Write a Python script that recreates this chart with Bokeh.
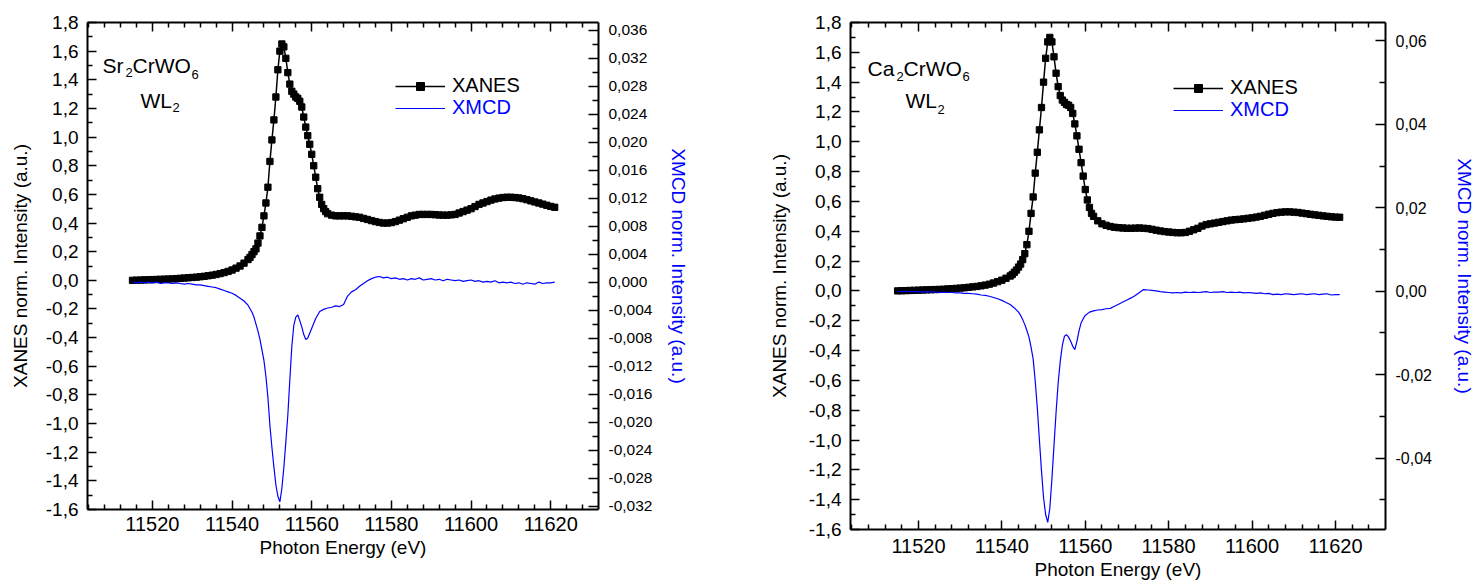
from bokeh.plotting import figure
from bokeh.models import (Range1d, LinearAxis, FixedTicker, CustomJSTickFormatter,
                          Legend, LegendItem, Label)
from bokeh.layouts import row
from bokeh.embed import file_html
from bokeh.resources import INLINE

FONT = "Liberation Sans"
BLUE = "#0000FF"

# ---------------- data: Sr2CrWO6 ----------------
sr_xanes_e = [11515, 11516, 11517, 11518, 11519, 11520, 11521, 11522, 11523, 11524,
              11525, 11526, 11527, 11528, 11529, 11530, 11531, 11532, 11533, 11534,
              11535, 11536, 11537, 11538, 11539, 11540, 11541, 11542, 11543, 11544,
              11544.5, 11545, 11545.5, 11546, 11546.5, 11547, 11547.5, 11548, 11548.5, 11549,
              11549.5, 11550, 11550.5, 11551, 11551.5, 11552, 11552.5, 11553, 11553.5, 11554,
              11554.5, 11555, 11555.5, 11556, 11556.5, 11557, 11557.5, 11558, 11558.5, 11559,
              11559.5, 11560, 11560.5, 11561, 11561.5, 11562, 11562.5, 11563, 11563.5, 11564,
              11565, 11566, 11567, 11568, 11569, 11570, 11571, 11572, 11573, 11574,
              11575, 11576, 11577, 11578, 11579, 11580, 11581, 11582, 11583, 11584,
              11585, 11586, 11587, 11588, 11589, 11590, 11591, 11592, 11593, 11594,
              11595, 11596, 11597, 11598, 11599, 11600, 11601, 11602, 11603, 11604,
              11605, 11606, 11607, 11608, 11609, 11610, 11611, 11612, 11613, 11614,
              11615, 11616, 11617, 11618, 11619, 11620, 11621]
sr_xanes = [0.000, 0.001, 0.002, 0.003, 0.004, 0.005, 0.006, 0.007, 0.008, 0.009,
            0.010, 0.012, 0.014, 0.016, 0.018, 0.020, 0.022, 0.025, 0.028, 0.032,
            0.036, 0.041, 0.047, 0.054, 0.062, 0.072, 0.085, 0.100, 0.120, 0.145,
            0.160, 0.180, 0.200, 0.220, 0.260, 0.310, 0.370, 0.450, 0.540, 0.650,
            0.830, 0.980, 1.120, 1.280, 1.470, 1.600, 1.650, 1.630, 1.550, 1.450,
            1.370, 1.320, 1.300, 1.280, 1.270, 1.250, 1.210, 1.140, 1.070, 1.010,
            0.950, 0.880, 0.800, 0.720, 0.640, 0.580, 0.530, 0.500, 0.480, 0.465,
            0.455, 0.450, 0.450, 0.450, 0.450, 0.447, 0.443, 0.440, 0.432, 0.425,
            0.417, 0.410, 0.404, 0.400, 0.400, 0.403, 0.410, 0.420, 0.430, 0.440,
            0.450, 0.455, 0.460, 0.460, 0.460, 0.460, 0.458, 0.456, 0.455, 0.455,
            0.457, 0.460, 0.470, 0.480, 0.490, 0.500, 0.515, 0.530, 0.540, 0.550,
            0.560, 0.568, 0.574, 0.578, 0.580, 0.580, 0.578, 0.575, 0.570, 0.563,
            0.555, 0.547, 0.540, 0.532, 0.524, 0.516, 0.510]

sr_xmcd_e = [11515, 11516, 11517, 11518, 11519, 11520, 11521, 11522, 11523, 11524,
             11525, 11526, 11527, 11528, 11529, 11530, 11531, 11532, 11533, 11534,
             11535, 11536, 11537, 11538, 11539, 11540, 11541, 11542, 11543, 11544,
             11545, 11545.5, 11546, 11546.5, 11547, 11547.5, 11548, 11548.5, 11549, 11549.5,
             11550, 11550.5, 11551, 11551.5, 11552, 11552.5, 11553, 11553.5, 11554, 11554.5,
             11555, 11555.5, 11556, 11556.5, 11557, 11557.5, 11558, 11558.5, 11559, 11559.5,
             11560, 11561, 11562, 11563, 11564, 11565, 11566, 11567, 11568, 11569,
             11570, 11571, 11572, 11573, 11574, 11575, 11576, 11577, 11578, 11579,
             11580, 11581, 11582, 11583, 11584, 11585, 11586, 11587, 11588, 11589,
             11590, 11591, 11592, 11593, 11594, 11595, 11596, 11597, 11598, 11599,
             11600, 11601, 11602, 11603, 11604, 11605, 11606, 11607, 11608, 11609,
             11610, 11611, 11612, 11613, 11614, 11615, 11616, 11617, 11618, 11619,
             11620, 11621]
sr_xmcd = [0.0000, -0.0001, 0.0000, -0.0001, 0.0000, -0.0001, 0.0000, -0.0002, -0.0001, -0.0001,
           -0.0002, -0.0001, -0.0002, -0.0003, -0.0002, -0.0003, -0.0004, -0.0004, -0.0005, -0.0006,
           -0.0007, -0.0008, -0.0010, -0.0012, -0.0014, -0.0016, -0.0019, -0.0023, -0.0027, -0.0033,
           -0.0043, -0.0050, -0.0060, -0.0070, -0.0082, -0.0097, -0.0112, -0.0135, -0.0165, -0.0205,
           -0.0236, -0.0264, -0.0290, -0.0306, -0.0314, -0.0295, -0.0265, -0.0228, -0.0190, -0.0140,
           -0.0092, -0.0062, -0.0050, -0.0047, -0.0055, -0.0064, -0.0075, -0.0082, -0.0080, -0.0073,
           -0.0066, -0.0052, -0.0042, -0.0039, -0.0037, -0.0036, -0.0034, -0.0035, -0.0032, -0.0020,
           -0.0014, -0.0011, -0.0006, -0.0002, 0.0002, 0.0005, 0.0007, 0.0008, 0.0006, 0.0007,
           0.0005, 0.0006, 0.0004, 0.0005, 0.0003, 0.0005, 0.0004, 0.0006, 0.0003, 0.0004,
           0.0005, 0.0003, 0.0004, 0.0002, 0.0004, 0.0003, 0.0002, 0.0003, 0.0001, 0.0002,
           0.0003, 0.0001, 0.0002, 0.0000, 0.0001, 0.0000, 0.0002, -0.0001, 0.0000, -0.0001,
           0.0000, -0.0002, -0.0001, -0.0003, -0.0001, -0.0002, -0.0003, 0.0000, -0.0002, -0.0001,
           -0.0001, 0.0000]

# ---------------- data: Ca2CrWO6 ----------------
ca_xanes_e = [11515, 11516, 11517, 11518, 11519, 11520, 11521, 11522, 11523, 11524,
              11525, 11526, 11527, 11528, 11529, 11530, 11531, 11532, 11533, 11534,
              11535, 11536, 11537, 11538, 11539, 11540, 11541, 11542,
              11542.5, 11543, 11543.5, 11544, 11544.5, 11545, 11545.5, 11546, 11546.5, 11547,
              11547.5, 11548, 11548.5, 11549, 11549.5, 11550, 11550.5, 11551, 11551.5, 11552,
              11552.5, 11553, 11553.5, 11554, 11554.5, 11555, 11555.5, 11556, 11556.5, 11557,
              11557.5, 11558, 11558.5, 11559, 11559.5, 11560, 11560.5, 11561, 11561.5, 11562,
              11563, 11564, 11565, 11566, 11567, 11568, 11569, 11570, 11571, 11572,
              11573, 11574, 11575, 11576, 11577, 11578, 11579, 11580, 11581, 11582,
              11583, 11584, 11585, 11586, 11587, 11588, 11589, 11590, 11591, 11592,
              11593, 11594, 11595, 11596, 11597, 11598, 11599, 11600, 11601, 11602,
              11603, 11604, 11605, 11606, 11607, 11608, 11609, 11610, 11611, 11612,
              11613, 11614, 11615, 11616, 11617, 11618, 11619, 11620, 11621]
ca_xanes = [0.000, 0.001, 0.002, 0.003, 0.004, 0.005, 0.006, 0.007, 0.008, 0.009,
            0.010, 0.011, 0.013, 0.015, 0.017, 0.019, 0.021, 0.024, 0.027, 0.030,
            0.034, 0.039, 0.045, 0.053, 0.062, 0.072, 0.085, 0.100,
            0.110, 0.125, 0.140, 0.160, 0.180, 0.210, 0.250, 0.310, 0.400, 0.520,
            0.630, 0.790, 0.930, 1.080, 1.230, 1.400, 1.560, 1.670, 1.700, 1.670,
            1.570, 1.460, 1.370, 1.310, 1.280, 1.265, 1.250, 1.245, 1.230, 1.190,
            1.120, 1.040, 0.950, 0.860, 0.770, 0.680, 0.610, 0.560, 0.520, 0.500,
            0.470, 0.450, 0.440, 0.432, 0.427, 0.424, 0.422, 0.420, 0.420, 0.421,
            0.422, 0.420, 0.418, 0.413, 0.407, 0.402, 0.398, 0.395, 0.392, 0.390,
            0.390, 0.392, 0.400, 0.410, 0.420, 0.435, 0.445, 0.450, 0.455, 0.460,
            0.465, 0.470, 0.475, 0.478, 0.480, 0.483, 0.487, 0.490, 0.495, 0.500,
            0.507, 0.514, 0.520, 0.525, 0.528, 0.530, 0.530, 0.528, 0.526, 0.522,
            0.518, 0.514, 0.510, 0.507, 0.503, 0.500, 0.497, 0.495, 0.494]

ca_xmcd_e = [11515, 11516, 11517, 11518, 11519, 11520, 11521, 11522, 11523, 11524,
             11525, 11526, 11527, 11528, 11529, 11530, 11531, 11532, 11533, 11534,
             11535, 11536, 11537, 11538, 11539, 11540, 11541, 11542, 11543, 11544,
             11544.5, 11545, 11545.5, 11546, 11546.5, 11547, 11547.5, 11548, 11548.5, 11549,
             11549.5, 11550, 11550.5, 11551, 11551.5, 11552, 11552.5, 11553, 11553.5, 11554,
             11554.5, 11555, 11555.5, 11556, 11556.5, 11557, 11557.5, 11558, 11558.5, 11559,
             11559.5, 11560, 11561, 11562, 11563, 11564, 11565, 11566, 11567, 11568,
             11569, 11570, 11571, 11572, 11573, 11574, 11575, 11576, 11577, 11578,
             11579, 11580, 11581, 11582, 11583, 11584, 11585, 11586, 11587, 11588,
             11589, 11590, 11591, 11592, 11593, 11594, 11595, 11596, 11597, 11598,
             11599, 11600, 11601, 11602, 11603, 11604, 11605, 11606, 11607, 11608,
             11609, 11610, 11611, 11612, 11613, 11614, 11615, 11616, 11617, 11618,
             11619, 11620, 11621]
ca_xmcd = [0.0000, -0.0001, 0.0000, -0.0001, -0.0001, -0.0001, -0.0002, -0.0001, -0.0002, -0.0002,
           -0.0003, -0.0002, -0.0003, -0.0003, -0.0004, -0.0004, -0.0005, -0.0005, -0.0006, -0.0007,
           -0.0009, -0.0010, -0.0012, -0.0015, -0.0018, -0.0022, -0.0027, -0.0032, -0.0040, -0.0050,
           -0.0058, -0.0068, -0.0080, -0.0094, -0.0110, -0.0134, -0.0162, -0.0215, -0.0280, -0.0356,
           -0.0430, -0.0495, -0.0535, -0.0554, -0.0520, -0.0450, -0.0370, -0.0290, -0.0220, -0.0168,
           -0.0130, -0.0108, -0.0104, -0.0110, -0.0120, -0.0132, -0.0140, -0.0120, -0.0095, -0.0076,
           -0.0066, -0.0058, -0.0050, -0.0047, -0.0045, -0.0044, -0.0042, -0.0041, -0.0036, -0.0031,
           -0.0026, -0.0021, -0.0016, -0.0010, -0.0003, 0.0004, 0.0003, 0.0002, 0.0001, -0.0001,
           -0.0002, -0.0003, -0.0004, -0.0003, -0.0004, -0.0002, -0.0003, -0.0002, -0.0003, -0.0002,
           -0.0001, -0.0003, -0.0002, -0.0002, -0.0001, -0.0003, -0.0002, -0.0003, -0.0002, -0.0004,
           -0.0003, -0.0004, -0.0005, -0.0004, -0.0006, -0.0005, -0.0008, -0.0007, -0.0008, -0.0006,
           -0.0007, -0.0008, -0.0007, -0.0006, -0.0008, -0.0007, -0.0006, -0.0008, -0.0007, -0.0006,
           -0.0009, -0.0008, -0.0008]

# ---------------- ticks ----------------
x_major = [11520, 11540, 11560, 11580, 11600, 11620]
x_minor = [11504, 11508, 11512, 11516, 11524, 11528, 11532, 11536, 11544, 11548, 11552, 11556,
           11564, 11568, 11572, 11576, 11584, 11588, 11592, 11596, 11604, 11608, 11612, 11616,
           11624, 11628]
xanes_major = [-1.6, -1.4, -1.2, -1.0, -0.8, -0.6, -0.4, -0.2, 0.0, 0.2, 0.4, 0.6, 0.8,
               1.0, 1.2, 1.4, 1.6, 1.8]
xanes_minor = [-1.5, -1.3, -1.1, -0.9, -0.7, -0.5, -0.3, -0.1, 0.1, 0.3, 0.5, 0.7, 0.9,
               1.1, 1.3, 1.5, 1.7]
sr_xmcd_major = [-0.032, -0.028, -0.024, -0.020, -0.016, -0.012, -0.008, -0.004, 0.0,
                 0.004, 0.008, 0.012, 0.016, 0.020, 0.024, 0.028, 0.032, 0.036]
sr_xmcd_minor = [-0.030, -0.026, -0.022, -0.018, -0.014, -0.010, -0.006, -0.002,
                 0.002, 0.006, 0.010, 0.014, 0.018, 0.022, 0.026, 0.030, 0.034]
ca_xmcd_major = [-0.04, -0.02, 0.0, 0.02, 0.04, 0.06]
ca_xmcd_minor = [-0.05, -0.03, -0.01, 0.01, 0.03, 0.05]

X_RANGE = (11503.7, 11632.0)
XANES_RANGE = (-1.6, 1.8)
SR_XMCD_RANGE = (-0.0325, 0.0371)
CA_XMCD_RANGE = (-0.0571, 0.0644)


def comma_fmt(d):
    return CustomJSTickFormatter(args=dict(d=d), code="""
        const v = Math.abs(tick) < 1e-12 ? 0 : tick;
        return v.toFixed(d).replace('.', ',');
    """)


def style_axis(ax, tick_px, major_in, minor_in, label_standoff, title_standoff,
               title_px=19, title_color="black"):
    ax.axis_line_width = 2
    ax.axis_line_color = "black"
    ax.major_tick_in = major_in
    ax.major_tick_out = 0
    ax.minor_tick_in = minor_in
    ax.minor_tick_out = 0
    ax.major_tick_line_width = 1.5
    ax.minor_tick_line_width = 1.5
    ax.major_tick_line_color = "black"
    ax.minor_tick_line_color = "black"
    ax.major_label_text_font = FONT
    ax.major_label_text_font_size = f"{tick_px}px"
    ax.major_label_text_color = "black"
    ax.major_label_standoff = label_standoff
    ax.axis_label_text_font = FONT
    ax.axis_label_text_font_style = "normal"
    ax.axis_label_text_font_size = f"{title_px}px"
    ax.axis_label_text_color = title_color
    ax.axis_label_standoff = title_standoff


def make_panel(width, height, borders, xe, xv, me, mv, xmcd_range, xmcd_major, xmcd_minor,
               xmcd_dec, xmcd_tick_px, opts, legend_pos, name_pieces):
    bl, br, bt, bb = borders
    p = figure(width=width, height=height, output_backend="svg", toolbar_location=None,
               x_range=Range1d(*X_RANGE), y_range=Range1d(*XANES_RANGE),
               x_axis_location=None, y_axis_location=None,
               min_border_left=bl, min_border_right=br, min_border_top=bt, min_border_bottom=bb)
    p.extra_y_ranges = {"xmcd": Range1d(*xmcd_range)}
    p.grid.visible = False
    p.outline_line_color = None
    p.background_fill_color = "white"
    p.border_fill_color = "white"

    # axes
    bottom = LinearAxis(ticker=FixedTicker(ticks=x_major, minor_ticks=x_minor),
                        formatter=comma_fmt(0), axis_label="Photon Energy (eV)")
    style_axis(bottom, 20, 9, 5, opts["b_ls"], opts["b_ts"])
    p.add_layout(bottom, "below")

    top = LinearAxis(ticker=FixedTicker(ticks=x_major, minor_ticks=x_minor),
                     formatter=CustomJSTickFormatter(code="return '';"))
    style_axis(top, 1, 9, 5, 0, 0)
    p.add_layout(top, "above")

    left = LinearAxis(ticker=FixedTicker(ticks=xanes_major, minor_ticks=xanes_minor),
                      formatter=comma_fmt(1), axis_label="XANES norm. Intensity (a.u.)")
    style_axis(left, 19, 9, 5, opts["l_ls"], opts["l_ts"])
    p.add_layout(left, "left")

    right = LinearAxis(y_range_name="xmcd",
                       ticker=FixedTicker(ticks=xmcd_major, minor_ticks=xmcd_minor),
                       formatter=comma_fmt(xmcd_dec), axis_label="XMCD norm. Intensity (a.u.)")
    style_axis(right, xmcd_tick_px, 10, 6, opts["r_ls"], opts["r_ts"], title_color=BLUE)
    p.add_layout(right, "right")

    # data
    lx = p.line(xe, xv, line_color="black", line_width=1.5)
    sq = p.scatter(xe, xv, marker="square", size=6.3, fill_color="black", line_color="black")
    lm = p.line(me, mv, y_range_name="xmcd", line_color=BLUE, line_width=1.2)

    # legends (two, so each label can carry its own colour)
    vx, vy1, vy2 = legend_pos
    for items, loc, col in (([LegendItem(label="XANES", renderers=[lx, sq])], (vx, vy1), "black"),
                            ([LegendItem(label="XMCD", renderers=[lm])], (vx, vy2), BLUE)):
        leg = Legend(items=items, location=loc)
        leg.border_line_color = None
        leg.background_fill_alpha = 0
        leg.padding = 0
        leg.margin = 0
        leg.spacing = 0
        leg.glyph_width = 50
        leg.glyph_height = 20
        leg.label_height = 20
        leg.label_standoff = 7
        leg.label_text_font = FONT
        leg.label_text_font_size = "20px"
        leg.label_text_color = col
        p.add_layout(leg)

    for txt, sx, sy, size in name_pieces:
        p.add_layout(Label(x=sx, y=sy, x_units="screen", y_units="screen", text=txt,
                           text_font=FONT, text_font_size=f"{size}px", text_color="black",
                           text_align="left", text_baseline="alphabetic"))
    return p


p1 = make_panel(753, 565, (87, 155, 22, 56),
                sr_xanes_e, sr_xanes, sr_xmcd_e, sr_xmcd,
                SR_XMCD_RANGE, sr_xmcd_major, sr_xmcd_minor, 3, 15.5,
                dict(b_ls=7, b_ts=3, l_ls=9, l_ts=12, r_ls=10, r_ts=13),
                (308, 412, 390),
                [("Sr", 15, 444, 21), ("2", 38, 437, 13), ("CrWO", 45, 444, 21),
                 ("6", 104, 435, 13), ("WL", 53, 409, 21), ("2", 85, 402, 13)])

p2 = make_panel(724, 585, (97, 92, 22, 56),
                ca_xanes_e, ca_xanes, ca_xmcd_e, ca_xmcd,
                CA_XMCD_RANGE, ca_xmcd_major, ca_xmcd_minor, 2, 16,
                dict(b_ls=9, b_ts=3, l_ls=9, l_ts=16, r_ls=10, r_ts=19),
                (323, 430, 408),
                [("Ca", 17, 461, 21), ("2", 46, 453, 13), ("CrWO", 53, 461, 21),
                 ("6", 112, 453, 13), ("WL", 55, 429, 21), ("2", 87, 420, 13)])

layout = row(p1, p2)
open("out.html", "w").write(file_html(layout, INLINE))
